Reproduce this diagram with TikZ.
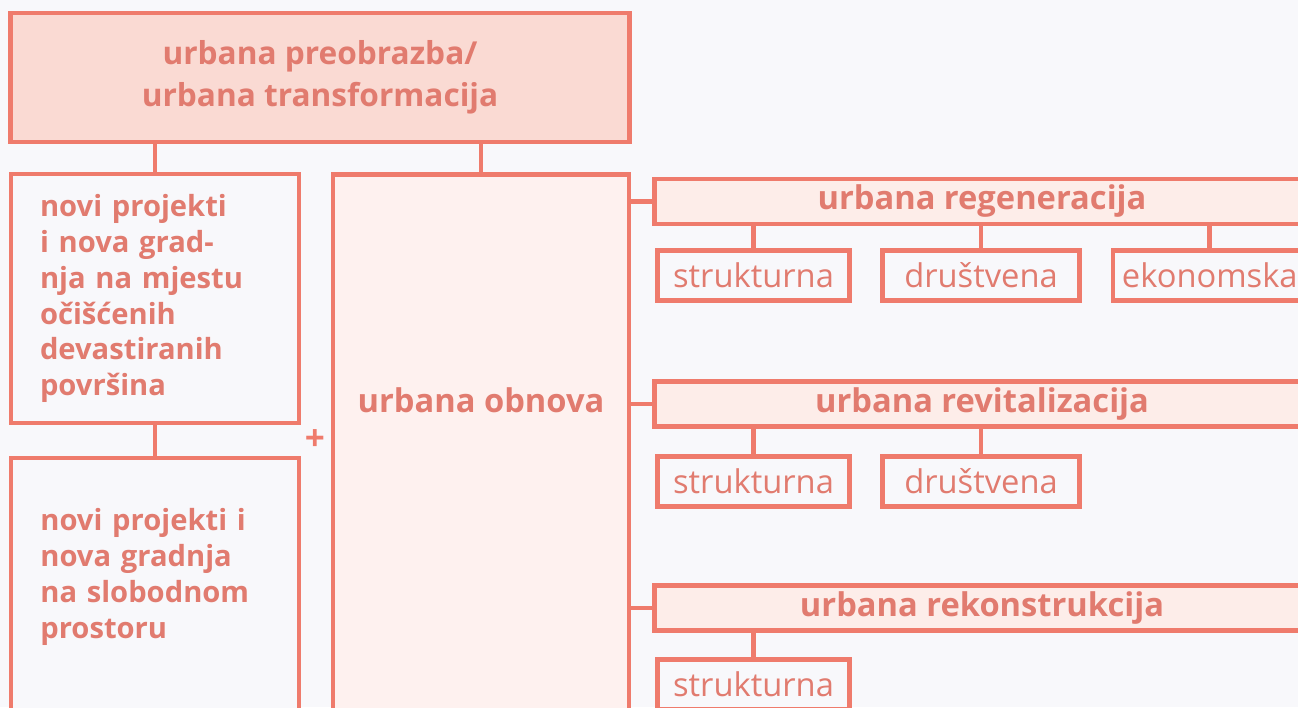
\documentclass[tikz,border=0pt]{standalone}
\usepackage{fontspec}
\setmainfont{Open Sans}
\definecolor{linec}{RGB}{239,123,108}
\definecolor{textc}{RGB}{225,123,111}
\definecolor{bgc}{RGB}{248,248,251}
\definecolor{topc}{RGB}{250,218,211}
\definecolor{headc}{RGB}{253,237,233}
\definecolor{obnc}{RGB}{254,241,239}
\begin{document}
\begin{tikzpicture}[x=0.02cm, y=-0.02cm,
        box/.style={rectangle, draw=linec, line width=2.8pt, inner sep=0pt, text=textc, align=center,
            font=\bfseries\fontsize{18.6}{24}\selectfont},
        head/.style={box, fill=headc, minimum width=13.1cm, minimum height=0.9cm},
        sub/.style={box, fill=bgc, minimum height=1cm, font=\fontsize{18.6}{22}\selectfont},
        lbl/.style={text=textc, inner sep=0pt, align=left, text width=4.6cm,
            font=\bfseries\fontsize{16.6}{20.4}\selectfont},
        conn/.style={draw=linec, line width=2.8pt}]
    \useasboundingbox (0,0) rectangle (1298,707);
    \clip (0,0) rectangle (1298,707);
    \fill[bgc] (0,0) rectangle (1298,707);

    \node[box, fill=topc, minimum width=12.4cm, minimum height=2.58cm, font=\bfseries\fontsize{18}{24}\selectfont] (top) at (320,77.5) {urbana preobrazba/\\urbana transformacija};
    \node[box, fill=bgc, minimum width=5.76cm, minimum height=4.98cm, text width=4.6cm, align=left,
        font=\bfseries\fontsize{16.6}{20.4}\selectfont] (novi1) at (155,298.5)
        {novi projekti\\i nova grad-\\nja na mjestu\\očišćenih\\devastiranih\\površina};
    \node[box, fill=bgc, minimum width=5.76cm, minimum height=6.04cm] (novi2) at (155,609) {};
    \node[lbl, anchor=west] (novi2txt) at (40,577) {novi projekti i\\nova gradnja\\na slobodnom\\prostoru};
    \node[text=linec, inner sep=0pt, font=\bfseries\fontsize{20}{20}\selectfont] (plus) at (315,440) {+};
    \node[box, fill=obnc, minimum width=5.92cm, minimum height=11.72cm] (obnova) at (481,467) {};
    \node[text=textc, inner sep=0pt, font=\bfseries\fontsize{18.6}{20}\selectfont] (obnovatxt) at (481,400) {urbana obnova};

    % urbana regeneracija
    \node[head] (regen) at (982,201.5) {urbana regeneracija};
    \node[sub, minimum width=3.84cm] (strukt1) at (753.5,275.5) {strukturna};
    \node[sub, minimum width=3.94cm] (drus1) at (981,275.5) {društvena};
    \node[sub, anchor=west, inner xsep=0.18cm] (ekon) at (1110.5,275.5) {ekonomska};

    % urbana revitalizacija
    \node[head] (revit) at (982,404) {urbana revitalizacija};
    \node[sub, minimum width=3.84cm] (strukt2) at (753.5,481.5) {strukturna};
    \node[sub, minimum width=3.94cm] (drus2) at (981,481.5) {društvena};

    % urbana rekonstrukcija
    \node[head] (rekon) at (982,608) {urbana rekonstrukcija};
    \node[sub, minimum width=3.84cm] (strukt3) at (753.5,684.5) {strukturna};

    \draw[conn] (top.south -| novi1.north) -- (novi1.north);
    \draw[conn] (top.south -| obnova.north) -- (obnova.north);
    \draw[conn] (novi1.south) -- (novi2.north);
    \draw[conn] (regen.west -| obnova.east) -- (regen.west);
    \draw[conn] (revit.west -| obnova.east) -- (revit.west);
    \draw[conn] (rekon.west -| obnova.east) -- (rekon.west);
    \draw[conn] (regen.south -| strukt1.north) -- (strukt1.north);
    \draw[conn] (regen.south -| drus1.north) -- (drus1.north);
    \draw[conn] (regen.south -| ekon.north) -- (ekon.north);
    \draw[conn] (revit.south -| strukt2.north) -- (strukt2.north);
    \draw[conn] (revit.south -| drus2.north) -- (drus2.north);
    \draw[conn] (rekon.south -| strukt3.north) -- (strukt3.north);
\end{tikzpicture}
\end{document}
